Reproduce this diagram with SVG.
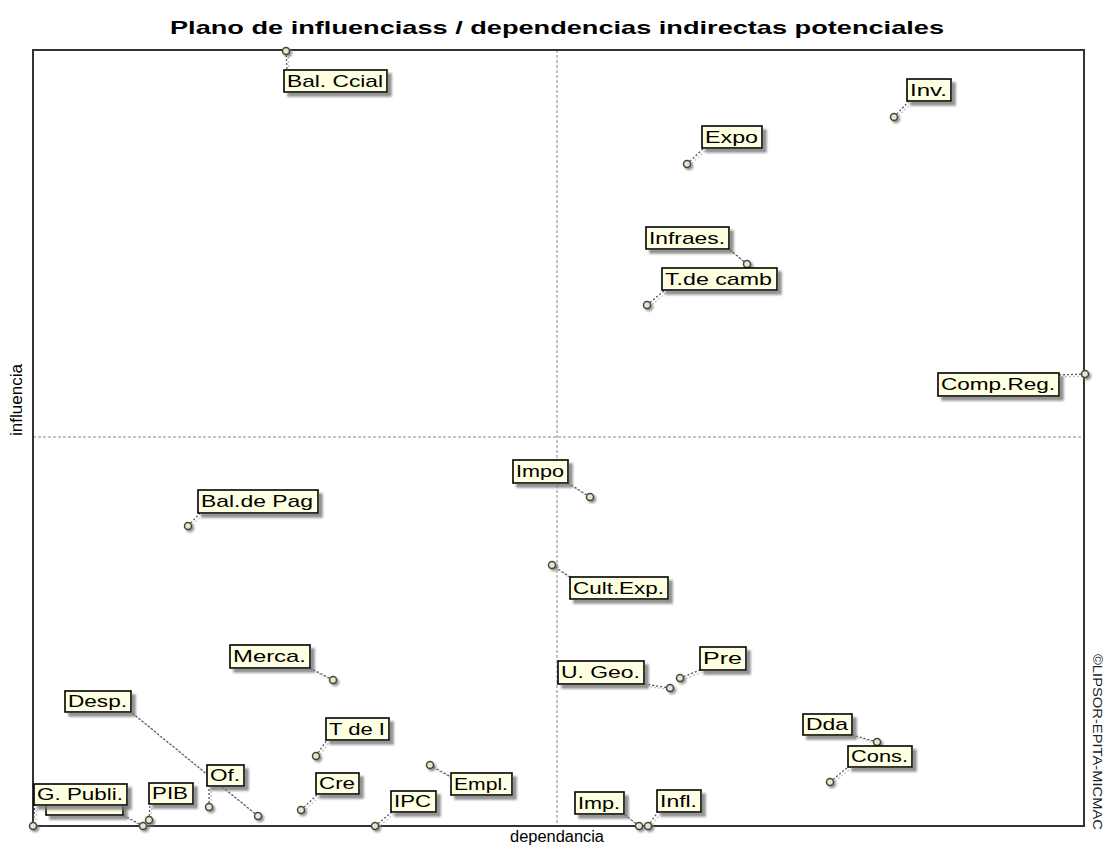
<svg xmlns="http://www.w3.org/2000/svg" width="1104" height="846" viewBox="0 0 1104 846">
<style>
.title{font-family:"Liberation Sans",Arial,sans-serif;font-weight:bold;font-size:19px;fill:#000}
.axis{font-family:"Liberation Sans",Arial,sans-serif;font-size:16px;fill:#000}
.lbl{font-family:"Liberation Sans",Arial,sans-serif;font-size:17px;fill:#000}
.box{fill:#FFFFE1;stroke:#000;stroke-width:1.6;filter:url(#sh)}
.pt{fill:#E8E8C8;stroke:#444;stroke-width:1.5;filter:url(#shp)}
.ld{stroke:#555;stroke-width:1.3;stroke-dasharray:2,2;fill:none}
.lds{stroke:#C4C4C4;stroke-width:1.3;stroke-dasharray:2,2;fill:none}
.mid{stroke:#888;stroke-width:1;stroke-dasharray:3,2;fill:none}
.copy{font-family:"Liberation Sans",Arial,sans-serif;font-size:12px;fill:#222}
</style>
<defs>
<filter id="sh" x="-20%" y="-30%" width="150%" height="170%">
<feDropShadow dx="4" dy="4" stdDeviation="1.2" flood-color="#777" flood-opacity="0.8"/>
</filter>
<filter id="shp" x="-100%" y="-100%" width="300%" height="300%">
<feDropShadow dx="2" dy="2" stdDeviation="0.8" flood-color="#777" flood-opacity="0.8"/>
</filter>
</defs>
<rect width="1104" height="846" fill="#fff"/>
<text class="title" x="557" y="34" text-anchor="middle" textLength="774" lengthAdjust="spacingAndGlyphs">Plano de influenciass / dependencias indirectas potenciales</text>
<g id="frame">
<line class="mid" x1="557" y1="50" x2="557" y2="826"/>
<line class="mid" x1="33" y1="437" x2="1084" y2="437"/>
<rect x="33" y="50" width="1051" height="776" fill="none" stroke="#333" stroke-width="2"/>
</g>
<text class="axis" x="557" y="842" text-anchor="middle" textLength="94" lengthAdjust="spacingAndGlyphs">dependancia</text>
<text class="axis" transform="translate(22,400) rotate(-90)" text-anchor="middle" textLength="72" lengthAdjust="spacingAndGlyphs">influencia</text>
<text class="copy" transform="translate(1093,742) rotate(90)" text-anchor="middle" textLength="176" lengthAdjust="spacingAndGlyphs">©LIPSOR-EPITA-MICMAC</text>
<g id="connectors">
<g transform="translate(2,2)">
<path class="lds" d="M286,51L287,70M894,117L909,101M687,164L704,148M747,264L729,249M647,305L665,290M1085,374L1059,375M590,497L568,483M552,565L570,577M188,526L200,513M333,680L310,668M670,688L644,684M680,678L700,670M877,742L852,735M830,782L848,767M258,816L131,712M209,807L209,786M143,826L123,815M33,826L35,805M149,820L150,804M316,756L327,740M301,810L318,794M375,826L392,812M430,765L451,777M639,826L624,814M648,826L658,812"/>
</g>
<path class="ld" d="M286,51L287,70M894,117L909,101M687,164L704,148M747,264L729,249M647,305L665,290M1085,374L1059,375M590,497L568,483M552,565L570,577M188,526L200,513M333,680L310,668M670,688L644,684M680,678L700,670M877,742L852,735M830,782L848,767M258,816L131,712M209,807L209,786M143,826L123,815M33,826L35,805M149,820L150,804M316,756L327,740M301,810L318,794M375,826L392,812M430,765L451,777M639,826L624,814M648,826L658,812"/>
</g>
<g id="n-balccial"><circle class="pt" cx="286" cy="51" r="3.5"/><rect class="box" x="284" y="70" width="103" height="22"/><text class="lbl" x="287" y="87" textLength="96" lengthAdjust="spacingAndGlyphs">Bal. Ccial</text></g>
<g id="n-inv"><circle class="pt" cx="894" cy="117" r="3.5"/><rect class="box" x="907" y="79" width="44" height="22"/><text class="lbl" x="910" y="96" textLength="37" lengthAdjust="spacingAndGlyphs">Inv.</text></g>
<g id="n-expo"><circle class="pt" cx="687" cy="164" r="3.5"/><rect class="box" x="702" y="126" width="60" height="22"/><text class="lbl" x="705" y="143" textLength="53" lengthAdjust="spacingAndGlyphs">Expo</text></g>
<g id="n-infraes"><circle class="pt" cx="747" cy="264" r="3.5"/><rect class="box" x="646" y="227" width="83" height="22"/><text class="lbl" x="649" y="244" textLength="76" lengthAdjust="spacingAndGlyphs">Infraes.</text></g>
<g id="n-tdecamb"><circle class="pt" cx="647" cy="305" r="3.5"/><rect class="box" x="662" y="268" width="115" height="22"/><text class="lbl" x="665" y="285" textLength="107" lengthAdjust="spacingAndGlyphs">T.de camb</text></g>
<g id="n-compreg"><circle class="pt" cx="1085" cy="374" r="3.5"/><rect class="box" x="938" y="373" width="121" height="23"/><text class="lbl" x="941" y="390" textLength="114" lengthAdjust="spacingAndGlyphs">Comp.Reg.</text></g>
<g id="n-impo"><circle class="pt" cx="590" cy="497" r="3.5"/><rect class="box" x="513" y="460" width="55" height="23"/><text class="lbl" x="516" y="477" textLength="48" lengthAdjust="spacingAndGlyphs">Impo</text></g>
<g id="n-cultexp"><circle class="pt" cx="552" cy="565" r="3.5"/><rect class="box" x="570" y="577" width="98" height="22"/><text class="lbl" x="573" y="594" textLength="91" lengthAdjust="spacingAndGlyphs">Cult.Exp.</text></g>
<g id="n-baldepag"><circle class="pt" cx="188" cy="526" r="3.5"/><rect class="box" x="198" y="490" width="120" height="23"/><text class="lbl" x="201" y="507" textLength="112" lengthAdjust="spacingAndGlyphs">Bal.de Pag</text></g>
<g id="n-merca"><circle class="pt" cx="333" cy="680" r="3.5"/><rect class="box" x="230" y="645" width="80" height="23"/><text class="lbl" x="233" y="662" textLength="73" lengthAdjust="spacingAndGlyphs">Merca.</text></g>
<g id="n-ugeo"><circle class="pt" cx="670" cy="688" r="3.5"/><rect class="box" x="558" y="661" width="86" height="23"/><text class="lbl" x="561" y="678" textLength="79" lengthAdjust="spacingAndGlyphs">U. Geo.</text></g>
<g id="n-pre"><circle class="pt" cx="680" cy="678" r="3.5"/><rect class="box" x="700" y="647" width="46" height="23"/><text class="lbl" x="703" y="664" textLength="39" lengthAdjust="spacingAndGlyphs">Pre</text></g>
<g id="n-dda"><circle class="pt" cx="877" cy="742" r="3.5"/><rect class="box" x="803" y="714" width="49" height="21"/><text class="lbl" x="806" y="730" textLength="42" lengthAdjust="spacingAndGlyphs">Dda</text></g>
<g id="n-cons"><circle class="pt" cx="830" cy="782" r="3.5"/><rect class="box" x="848" y="746" width="64" height="21"/><text class="lbl" x="851" y="762" textLength="57" lengthAdjust="spacingAndGlyphs">Cons.</text></g>
<g id="n-desp"><circle class="pt" cx="258" cy="816" r="3.5"/><rect class="box" x="65" y="691" width="66" height="21"/><text class="lbl" x="68" y="707" textLength="59" lengthAdjust="spacingAndGlyphs">Desp.</text></g>
<g id="n-of"><circle class="pt" cx="209" cy="807" r="3.5"/><rect class="box" x="207" y="765" width="37" height="21"/><text class="lbl" x="210" y="781" textLength="30" lengthAdjust="spacingAndGlyphs">Of.</text></g>
<g id="n-hidden"><circle class="pt" cx="143" cy="826" r="3.5"/><rect class="box" x="46" y="794" width="77" height="21"/></g>
<g id="n-gpubli"><circle class="pt" cx="33" cy="826" r="3.5"/><rect class="box" x="34" y="784" width="93" height="21"/><text class="lbl" x="37" y="800" textLength="86" lengthAdjust="spacingAndGlyphs">G. Publi.</text></g>
<g id="n-pib"><circle class="pt" cx="149" cy="820" r="3.5"/><rect class="box" x="149" y="783" width="44" height="21"/><text class="lbl" x="152" y="799" textLength="36" lengthAdjust="spacingAndGlyphs">PIB</text></g>
<g id="n-tdei"><circle class="pt" cx="316" cy="756" r="3.5"/><rect class="box" x="326" y="718" width="63" height="22"/><text class="lbl" x="329" y="735" textLength="56" lengthAdjust="spacingAndGlyphs">T de I</text></g>
<g id="n-cre"><circle class="pt" cx="301" cy="810" r="3.5"/><rect class="box" x="316" y="773" width="43" height="21"/><text class="lbl" x="319" y="789" textLength="36" lengthAdjust="spacingAndGlyphs">Cre</text></g>
<g id="n-ipc"><circle class="pt" cx="375" cy="826" r="3.5"/><rect class="box" x="391" y="791" width="45" height="21"/><text class="lbl" x="394" y="807" textLength="37" lengthAdjust="spacingAndGlyphs">IPC</text></g>
<g id="n-empl"><circle class="pt" cx="430" cy="765" r="3.5"/><rect class="box" x="451" y="773" width="61" height="22"/><text class="lbl" x="454" y="790" textLength="54" lengthAdjust="spacingAndGlyphs">Empl.</text></g>
<g id="n-imp"><circle class="pt" cx="639" cy="826" r="3.5"/><rect class="box" x="575" y="792" width="49" height="22"/><text class="lbl" x="578" y="809" textLength="42" lengthAdjust="spacingAndGlyphs">Imp.</text></g>
<g id="n-infl"><circle class="pt" cx="648" cy="826" r="3.5"/><rect class="box" x="657" y="790" width="44" height="22"/><text class="lbl" x="660" y="807" textLength="37" lengthAdjust="spacingAndGlyphs">Infl.</text></g>
</svg>
